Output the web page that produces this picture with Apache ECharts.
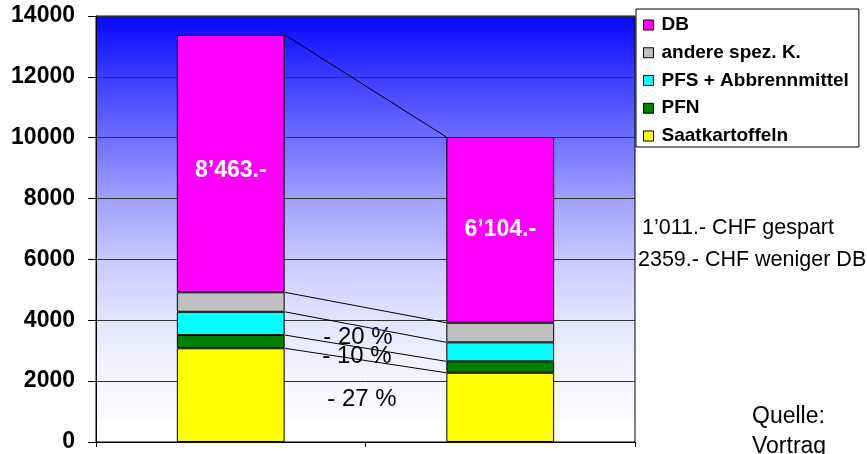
<!DOCTYPE html>
<html>
<head>
<meta charset="utf-8">
<script src="https://cdn.jsdelivr.net/npm/echarts@6/dist/echarts.min.js"></script>
<style>
html,body{margin:0;padding:0;background:#fff;overflow:hidden;}
#c{width:867px;height:454px;}
</style>
</head>
<body>
<div id="c"></div>
<script>
// ---- data ----
const categories = ['vorher', 'nachher'];
const saatkartoffeln = [3080, 2275];
const pfn = [435, 375];
const pfs = [765, 625];
const andere = [640, 645];
const db = [8463, 6104];
const dbLabels = ['8’463.-', '6’104.-'];
const yMin = 0, yMax = 14000, yInterval = 2000;
const legendOrder = ['DB', 'andere spez. K.', 'PFS + Abbrennmittel', 'PFN', 'Saatkartoffeln'];
const notes = ['1’011.- CHF gespart', '2359.- CHF weniger DB'];
const percents = ['- 20 %', '- 10 %', '- 27 %'];
const source = ['Quelle:', 'Vortrag'];

const FF = '"Liberation Sans", Arial, sans-serif';
const stackOrder = [saatkartoffeln, pfn, pfs, andere, db];
const tops = categories.map((_, c) => { let s = 0; return stackOrder.map(a => (s += a[c])); });
const links = stackOrder.map((_, i) => [0, tops[0][i], tops[1][i]]);
const BAR_FRAC = 0.4;

const chart = echarts.init(document.getElementById('c'), null, {renderer: 'canvas'});

function barSeries(name, data, color, extra) {
  return Object.assign({
    name: name, type: 'bar', stack: 'total', data: data, barWidth: (BAR_FRAC * 100) + '%',
    itemStyle: {color: color, borderColor: '#000', borderWidth: 1},
    emphasis: {disabled: true}, z: 3
  }, extra || {});
}

const option = {
  animation: false,
  textStyle: {fontFamily: FF},
  grid: {
    left: 96, right: 232, top: 16, bottom: 12, show: true,
    borderColor: '#000', borderWidth: 1,
    backgroundColor: {
      type: 'linear', x: 0, y: 0, x2: 0, y2: 1,
      colorStops: [
        {offset: 0, color: '#0606ff'},
        {offset: 0.143, color: '#3c3cff'},
        {offset: 0.286, color: '#6e6eff'},
        {offset: 0.429, color: '#a0a0ff'},
        {offset: 0.571, color: '#c8c8ff'},
        {offset: 0.714, color: '#e4e4ff'},
        {offset: 0.857, color: '#f6f6ff'},
        {offset: 0.94, color: '#fafaff'},
        {offset: 0.95, color: '#ffffff'},
        {offset: 1, color: '#ffffff'}
      ]
    }
  },
  legend: {
    data: legendOrder, orient: 'vertical', left: 636, top: 9,
    padding: [6, 10, 1, 7], itemGap: 7.75, itemWidth: 10, itemHeight: 10, icon: 'rect',
    backgroundColor: '#fff', borderColor: '#000', borderWidth: 1,
    selectedMode: false,
    itemStyle: {borderColor: '#000', borderWidth: 1},
    textStyle: {fontFamily: FF, fontWeight: 'bold', fontSize: 19, color: '#000', lineHeight: 20, padding: [0, 0, 0, 3]}
  },
  xAxis: {
    type: 'category', data: categories, boundaryGap: true,
    axisLine: {show: true, lineStyle: {color: '#000', width: 1}},
    axisTick: {show: true, length: 5, lineStyle: {color: '#000'}},
    axisLabel: {show: false},
    splitLine: {show: false}
  },
  yAxis: {
    type: 'value', min: yMin, max: yMax, interval: yInterval,
    axisLine: {show: true, lineStyle: {color: '#000', width: 1}},
    axisTick: {show: true, length: 8, lineStyle: {color: '#000'}},
    axisLabel: {color: '#000', fontFamily: FF, fontWeight: 'bold', fontSize: 23, margin: 21, formatter: v => String(v)},
    splitLine: {show: true, lineStyle: {color: '#333', width: 1}}
  },
  series: [
    barSeries('Saatkartoffeln', saatkartoffeln, '#ffff00'),
    barSeries('PFN', pfn, '#008000'),
    barSeries('PFS + Abbrennmittel', pfs, '#00ffff'),
    barSeries('andere spez. K.', andere, '#c0c0c0'),
    barSeries('DB', db.map((v, i) => ({value: v, label: {offset: i === 0 ? [0, 7] : [0, 0]}})), '#ff00ff', {
      label: {
        show: true, position: 'inside', formatter: p => dbLabels[p.dataIndex],
        color: '#fff', fontFamily: FF, fontWeight: 'bold', fontSize: 23
      }
    }),
    {
      type: 'custom', silent: true, z: 2, encode: {x: 0, y: [1, 2]}, data: links,
      renderItem: (params, api) => {
        const a = api.coord([0, api.value(1)]);
        const b = api.coord([1, api.value(2)]);
        const half = api.size([1, 0])[0] * BAR_FRAC / 2;
        return {
          type: 'line',
          shape: {x1: a[0] + half, y1: a[1], x2: b[0] - half, y2: b[1]},
          style: {stroke: '#000', lineWidth: 1}
        };
      }
    }
  ],
  graphic: [
    {type: 'text', x: 358, y: 337, z: 10, style: {text: percents[0], fill: '#000', font: '24px ' + FF, textAlign: 'center', textVerticalAlign: 'middle'}},
    {type: 'text', x: 357, y: 356, z: 10, style: {text: percents[1], fill: '#000', font: '24px ' + FF, textAlign: 'center', textVerticalAlign: 'middle'}},
    {type: 'text', x: 362, y: 399, z: 10, style: {text: percents[2], fill: '#000', font: '24px ' + FF, textAlign: 'center', textVerticalAlign: 'middle'}},
    {type: 'text', x: 642, y: 228, z: 10, style: {text: notes[0], fill: '#000', font: '21.5px ' + FF, textAlign: 'left', textVerticalAlign: 'middle'}},
    {type: 'text', x: 638, y: 260, z: 10, style: {text: notes[1], fill: '#000', font: '21.5px ' + FF, textAlign: 'left', textVerticalAlign: 'middle'}},
    {type: 'text', x: 752, y: 417, z: 10, style: {text: source[0], fill: '#000', font: '23px ' + FF, textAlign: 'left', textVerticalAlign: 'middle'}},
    {type: 'text', x: 752, y: 447, z: 10, style: {text: source[1], fill: '#000', font: '23px ' + FF, textAlign: 'left', textVerticalAlign: 'middle'}}
  ]
};
chart.setOption(option);
</script>
</body>
</html>
